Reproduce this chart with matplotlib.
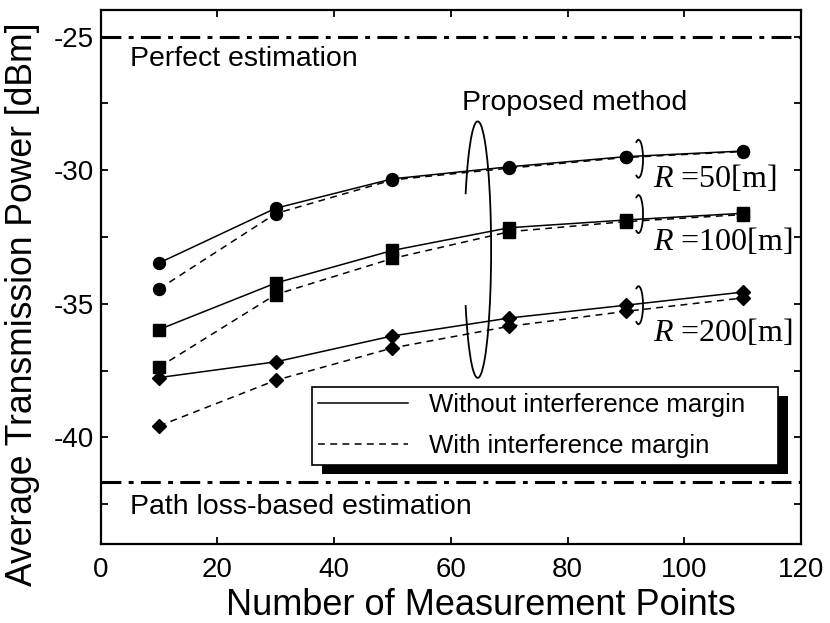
import numpy as np
import matplotlib
matplotlib.use("Agg")
import matplotlib.pyplot as plt
from matplotlib.lines import Line2D
from matplotlib.patches import Arc, Rectangle

plt.rcParams['font.family'] = ['Liberation Sans', 'DejaVu Sans']
plt.rcParams['mathtext.fontset'] = 'custom'
plt.rcParams['mathtext.it'] = 'Liberation Serif:italic'
plt.rcParams['mathtext.rm'] = 'Liberation Serif'

# measurement points
points = [10, 30, 50, 70, 90, 110]

# R = 50 m
r50_without = [-33.47, -31.42, -30.32, -29.87, -29.49, -29.28]
r50_with = [-34.44, -31.62, -30.36, -29.92, -29.52, -29.30]
# R = 100 m
r100_without = [-35.96, -34.22, -33.00, -32.15, -31.86, -31.61]
r100_with = [-37.37, -34.65, -33.30, -32.30, -31.92, -31.66]
# R = 200 m
r200_without = [-37.76, -37.17, -36.20, -35.53, -35.05, -34.56]
r200_with = [-39.57, -37.86, -36.65, -35.84, -35.28, -34.78]

perfect_level = -25.0
pathloss_level = -41.66

r_labels = ['$R$ =50[m]', '$R$ =100[m]', '$R$ =200[m]']
legend_labels = ['Without interference margin', 'With interference margin']

fig = plt.figure(figsize=(8.3, 6.23), dpi=100)
ax = fig.add_axes([0.1213, 0.1263, 0.8438, 0.8577])

dash = (0, (4.5, 3.5))
series = [(r50_without, r50_with, 'o', 8.6),
          (r100_without, r100_with, 's', 9.0),
          (r200_without, r200_with, 'D', 7.0)]
for sol, dsh, mk, ms in series:
    ax.plot(points, sol, color='k', lw=1.1, marker=mk, ms=ms, zorder=3)
    ax.plot(points, dsh, color='k', lw=1.1, ls=dash, marker=mk, ms=ms, zorder=3)

dashdot = (0, (6.5, 2.4, 1.6, 2.4))
ax.axhline(perfect_level, color='k', lw=2.2, ls=dashdot, zorder=2)
ax.axhline(pathloss_level, color='k', lw=2.2, ls=dashdot, zorder=2)

ax.text(5, -25.85, 'Perfect estimation', fontsize=20.5, va='center', ha='left')
ax.text(5, -42.6, 'Path loss-based estimation', fontsize=20.5, va='center', ha='left')
ax.text(61.9, -27.5, 'Proposed method', fontsize=20.5, va='center', ha='left')

# grouping ellipses
ax.add_patch(Arc((64.6, -32.97), 4.6, 9.6, theta1=-135, theta2=135, color='k', lw=1.3, zorder=4))
for cy in [-29.57, -31.64, -35.05]:
    ax.add_patch(Arc((92.15, cy), 1.55, 1.42, theta1=-125, theta2=125, color='k', lw=1.3, zorder=4))

for lab, ty in zip(r_labels, [-30.3, -32.67, -36.06]):
    ax.text(94.7, ty, lab, fontsize=23, va='center', ha='left', family='Liberation Serif')

ax.set_xlim(0, 120)
ax.set_ylim(-44, -24)
ax.set_xticks(np.arange(0, 121, 20))
yt = np.arange(-42.5, -24, 2.5)
ax.set_yticks(yt)
ax.set_yticklabels(['%d' % v if v % 5 == 0 else '' for v in yt])
ax.tick_params(direction='in', top=True, right=True, length=5, width=1.3, labelsize=20)
ax.tick_params(axis='x', pad=9)
ax.tick_params(axis='y', pad=5)
for s in ax.spines.values():
    s.set_linewidth(1.6)

ax.set_xlabel('Number of Measurement Points', fontsize=26)
ax.set_ylabel('Average Transmission Power [dBm]', fontsize=25.6)
ax.xaxis.set_label_coords(0.543, -0.082)
ax.yaxis.set_label_coords(-0.087, 0.45)

handles = [Line2D([], [], color='k', lw=1.1),
           Line2D([], [], color='k', lw=1.1, ls=dash)]
leg = ax.legend(handles, legend_labels, loc='upper left',
                bbox_to_anchor=(0.3017, 0.1536, 0.6648, 0.1408), mode='expand',
                borderaxespad=0, fontsize=18.5, frameon=True, fancybox=False,
                edgecolor='k', framealpha=1, handlelength=3.5, handletextpad=0.8,
                borderpad=0.25, labelspacing=0.65)
leg.get_frame().set_linewidth(1.2)
leg.set_zorder(6)

fig.canvas.draw()
bb = leg.get_frame().get_window_extent().transformed(fig.transFigure.inverted())
off_x, off_y = 10 / 830, 9 / 623
shadow = Rectangle((bb.x0 + off_x, bb.y0 - off_y), bb.width, bb.height,
                   transform=fig.transFigure, facecolor='k', edgecolor='none',
                   zorder=5, clip_on=False)
ax.add_patch(shadow)

fig.savefig('out.png', dpi=100)
